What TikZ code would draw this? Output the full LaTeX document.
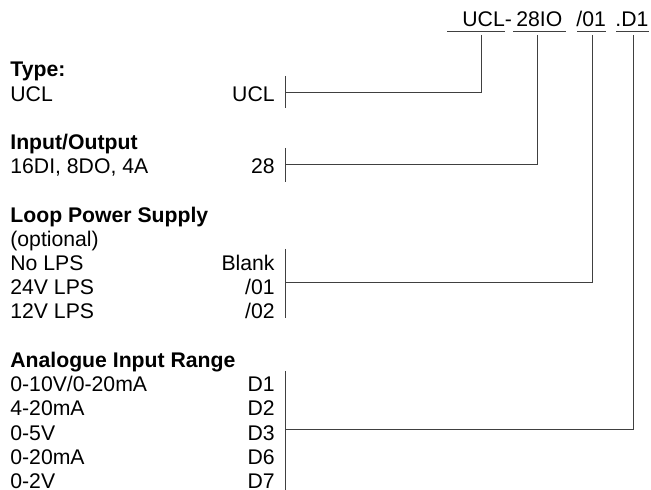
\documentclass[tikz,border=0pt]{standalone}
\usepackage{fontspec}
\setmainfont{Liberation Sans}
\usetikzlibrary{positioning}

\begin{document}
\begin{tikzpicture}[x=0.5pt, y=-0.5pt,
      txt/.style={font=\fontsize{10.6}{12.7}\selectfont, inner sep=0pt},
      head/.style={txt, font=\fontsize{10.6}{12.7}\selectfont\bfseries, anchor=base west},
      item/.style={txt, anchor=base west},
      code/.style={txt, anchor=base east},
      part/.style={txt, anchor=base west},
      ln/.style={line width=0.5pt, black!75}
    ]
      \useasboundingbox (0,0) rectangle (651,490);

      % Ordering code
      \node[part] (pUCL) at (462,27) {UCL-};
      \node[part] (pIO)  at (516,27) {28IO};
      \node[part] (pLPS) at (576,27) {/01};
      \node[part] (pAIR) at (615,27) {.D1};

      \draw[ln] (447,32) -- (505,32);
      \draw[ln] (513,32) -- (566,32);
      \draw[ln] (577,32) -- (606,32);
      \draw[ln] (616,32) -- (649,32);

      \coordinate (vUCL) at (481,35);
      \coordinate (vIO)  at (537,35);
      \coordinate (vLPS) at (592,35);
      \coordinate (vAIR) at (633,35);

      % Type
      \node[head] (hType) at (10,77) {Type:};
      \node[item] (iUCL) at (10,101.2) {UCL};
      \node[code] (cUCL) at (275,101.2) {UCL};

      % Input/Output
      \node[head] (hIO) at (10,149.6) {Input/Output};
      \node[item] (iIO) at (10,173.8) {16DI, 8DO, 4A};
      \node[code] (cIO) at (275,173.8) {28};

      % Loop Power Supply
      \node[head] (hLPS) at (10,222.2) {Loop Power Supply};
      \node[item] (iOpt) at (10,246.4) {(optional)};
      \node[item] (iNo)  at (10,270.6) {No LPS};
      \node[item] (i24)  at (10,294.8) {24V LPS};
      \node[item] (i12)  at (10,319) {12V LPS};
      \node[code] (cNo)  at (275,270.6) {Blank};
      \node[code] (c24)  at (275,294.8) {/01};
      \node[code] (c12)  at (275,319) {/02};

      % Analogue Input Range
      \node[head] (hAIR) at (10,367.4) {Analogue Input Range};
      \node[item] (iD1) at (10,391.6) {0-10V/0-20mA};
      \node[item] (iD2) at (10,415.8) {4-20mA};
      \node[item] (iD3) at (10,440) {0-5V};
      \node[item] (iD6) at (10,464.2) {0-20mA};
      \node[item] (iD7) at (10,488.4) {0-2V};
      \node[code] (cD1) at (275,391.6) {D1};
      \node[code] (cD2) at (275,415.8) {D2};
      \node[code] (cD3) at (275,440) {D3};
      \node[code] (cD6) at (275,464.2) {D6};
      \node[code] (cD7) at (275,488.4) {D7};

      % Brackets
      \draw[ln] (285,76) -- (285,108);
      \draw[ln] (285,148) -- (285,182);
      \draw[ln] (285,249) -- (285,318);
      \draw[ln] (285,371) -- (285,490);
      \coordinate (bUCL) at (285,92.5);
      \coordinate (bIO)  at (285,165);
      \coordinate (bLPS) at (285,283);
      \coordinate (bAIR) at (285,429);

      \draw[ln] (bUCL) -| (vUCL);
      \draw[ln] (bIO)  -| (vIO);
      \draw[ln] (bLPS) -| (vLPS);
      \draw[ln] (bAIR) -| (vAIR);
    \end{tikzpicture}
\end{document}
